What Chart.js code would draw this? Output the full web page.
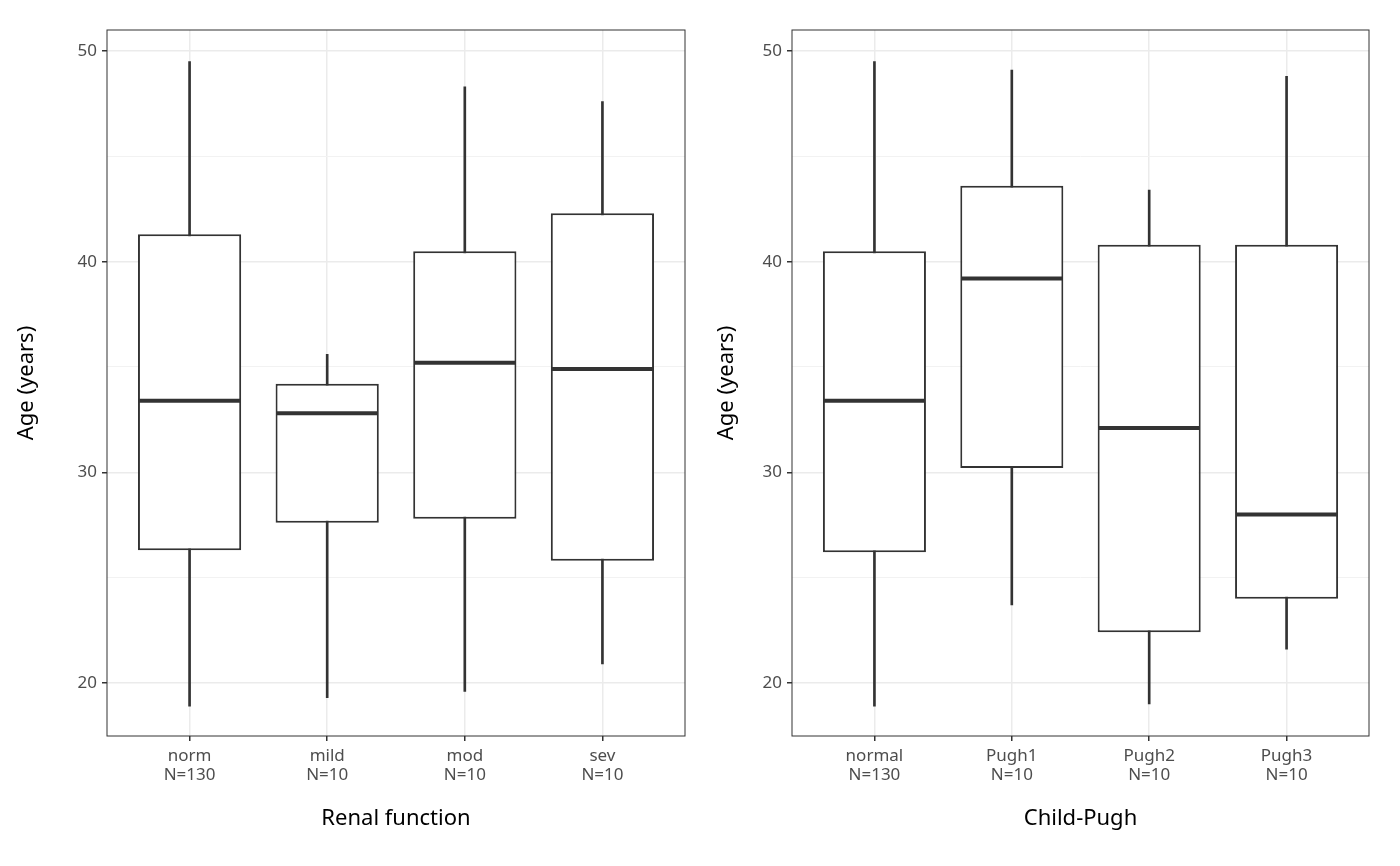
<!DOCTYPE html>
<html>
<head>
<meta charset="utf-8">
<script src="https://cdn.jsdelivr.net/npm/chart.js@4"></script>
<style>
  body { margin: 0; background: #fff; }
  .wrap { display: flex; width: 1400px; height: 866px; }
  .panel { position: relative; width: 700px; height: 866px; }
</style>
</head>
<body>
<div class="wrap">
  <div class="panel"><canvas id="renal"></canvas></div>
  <div class="panel"><canvas id="pugh"></canvas></div>
</div>
<script>
// box stats per group: min, q1, median, q3, max
var renalGroups = ["norm", "mild", "mod", "sev"];
var renalN = [130, 10, 10, 10];
var renalMin = [18.9, 19.3, 19.6, 20.9];
var renalQ1 = [26.3, 27.6, 27.8, 25.8];
var renalMed = [33.4, 32.8, 35.2, 34.9];
var renalQ3 = [41.3, 34.2, 40.5, 42.3];
var renalMax = [49.5, 35.6, 48.3, 47.6];

var pughGroups = ["normal", "Pugh1", "Pugh2", "Pugh3"];
var pughN = [130, 10, 10, 10];
var pughMin = [18.9, 23.7, 19.0, 21.6];
var pughQ1 = [26.2, 30.2, 22.4, 24.0];
var pughMed = [33.4, 39.2, 32.1, 28.0];
var pughQ3 = [40.5, 43.6, 40.8, 40.8];
var pughMax = [49.5, 49.1, 43.4, 48.8];

var yTicks = [20, 25, 30, 35, 40, 45, 50];

var font = "'Noto Sans', sans-serif";

var medianPlugin = {
  id: "medians",
  afterDatasetsDraw: function (chart) {
    var meds = chart.options.plugins.medians.values;
    var ctx = chart.ctx, xs = chart.scales.x, ys = chart.scales.y;
    var half = xs.getPixelForValue(1.375) - xs.getPixelForValue(1);
    ctx.save();
    ctx.strokeStyle = "#333333";
    ctx.lineWidth = 4;
    meds.forEach(function (m, i) {
      var cx = xs.getPixelForValue(i + 1), py = ys.getPixelForValue(m);
      ctx.beginPath();
      ctx.moveTo(cx - half + 1, py);
      ctx.lineTo(cx + half - 1, py);
      ctx.stroke();
    });
    ctx.restore();
  }
};

var borderPlugin = {
  id: "panelBorder",
  afterDraw: function (chart) {
    var a = chart.chartArea, ctx = chart.ctx;
    ctx.save();
    ctx.strokeStyle = "#333333";
    ctx.lineWidth = 1;
    ctx.strokeRect(a.left, a.top, a.right - a.left, a.bottom - a.top);
    ctx.restore();
  }
};

function makeChart(id, groups, ns, mins, q1s, meds, q3s, maxs, xTitle, yWidth, padRight) {
  var boxes = groups.map(function (g, i) { return { x: i + 1, y: [q1s[i], q3s[i]] }; });
  var whiskers = groups.map(function (g, i) { return { x: i + 1, y: [mins[i], maxs[i]] }; });
  new Chart(document.getElementById(id), {
    type: "bar",
    data: {
      datasets: [{
        data: boxes,
        grouped: false,
        order: 1,
        backgroundColor: "#ffffff",
        borderColor: "#333333",
        borderWidth: 2,
        borderSkipped: false,
        barPercentage: 0.75,
        categoryPercentage: 1
      }, {
        data: whiskers,
        grouped: false,
        order: 2,
        backgroundColor: "#333333",
        borderWidth: 0,
        barThickness: 2
      }]
    },
    options: {
      responsive: false,
      animation: false,
      layout: { padding: { left: 10, right: padRight, top: 30, bottom: 30 } },
      plugins: {
        legend: { display: false },
        tooltip: { enabled: false },
        medians: { values: meds }
      },
      scales: {
        x: {
          type: "linear",
          min: 0.4,
          max: 4.6,
          offset: false,
          afterBuildTicks: function (s) { s.ticks = [1, 2, 3, 4].map(function (v) { return { value: v }; }); },
          afterFit: function (s) { s.height = 100; },
          grid: { offset: false, color: "#ebebeb", lineWidth: 1.5, tickColor: "#333333", tickLength: 5 },
          border: { display: false },
          ticks: {
            color: "#4d4d4d",
            font: { family: font, size: 17, lineHeight: 1.1 },
            padding: 6,
            maxRotation: 0,
            callback: function (v) { return [groups[v - 1], "N=" + ns[v - 1]]; }
          },
          title: { display: true, text: xTitle, color: "#000", font: { family: font, size: 22 }, padding: { top: 4 } }
        },
        y: {
          min: 17.48,
          max: 51.0,
          afterBuildTicks: function (s) { s.ticks = yTicks.map(function (v) { return { value: v }; }); },
          afterFit: function (s) { s.width = yWidth - 10; },
          grid: {
            color: function (c) { return c.tick && c.tick.value % 10 === 0 ? "#ebebeb" : "#f2f2f2"; },
            lineWidth: function (c) { return c.tick && c.tick.value % 10 === 0 ? 1.5 : 1; },
            tickColor: function (c) { return c.tick && c.tick.value % 10 === 0 ? "#333333" : "rgba(0,0,0,0)"; },
            tickLength: 5
          },
          border: { display: false },
          ticks: {
            color: "#4d4d4d",
            font: { family: font, size: 17 },
            padding: 5,
            callback: function (v) { return v % 10 === 0 ? v : ""; }
          },
          title: { display: true, text: "Age (years)", color: "#000", font: { family: font, size: 22 }, padding: { bottom: 8 } }
        }
      }
    },
    plugins: [medianPlugin, borderPlugin]
  });
}

["renal", "pugh"].forEach(function (id) {
  var c = document.getElementById(id);
  c.width = 700; c.height = 866;
});

makeChart("renal", renalGroups, renalN, renalMin, renalQ1, renalMed, renalQ3, renalMax, "Renal function", 107, 15);
makeChart("pugh", pughGroups, pughN, pughMin, pughQ1, pughMed, pughQ3, pughMax, "Child-Pugh", 92, 31);
</script>
</body>
</html>
